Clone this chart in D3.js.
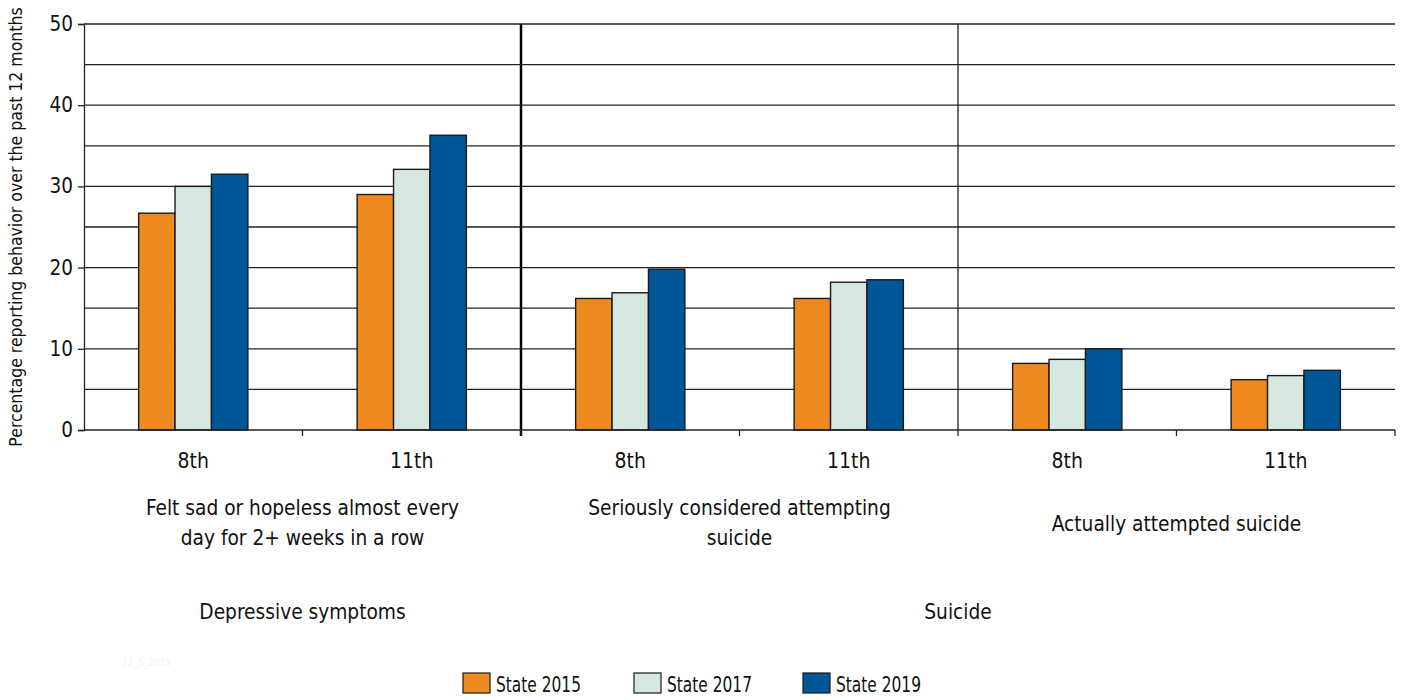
<!DOCTYPE html>
<html>
<head>
<meta charset="utf-8">
<script src="https://cdn.jsdelivr.net/npm/d3@7"></script>
<style>
  body { margin: 0; background: #fff; overflow: hidden; }
  svg { display: block; }
  text { font-family: "DejaVu Sans Condensed", "Liberation Sans Narrow", Arial, sans-serif; fill: #111; }
</style>
</head>
<body>
<script>
// canvas
var width = 1403;
var height = 700;

const margin = {left: 84, right: 8, top: 24, bottom: 270};
const innerWidth = width - margin.left - margin.right;
const innerHeight = height - margin.top - margin.bottom;

// data
var grades = ["8th", "11th", "8th", "11th", "8th", "11th"];
var questions = [
  ["Felt sad or hopeless almost every", "day for 2+ weeks in a row"],
  ["Seriously considered attempting", "suicide"],
  ["Actually attempted suicide"]
];
var topics = ["Depressive symptoms", "Suicide"];
var series = ["State 2015", "State 2017", "State 2019"];
var v2015 = [26.7, 29.0, 16.2, 16.2, 8.2, 6.2];
var v2017 = [30.0, 32.1, 16.9, 18.2, 8.7, 6.7];
var v2019 = [31.5, 36.3, 19.8, 18.5, 10.0, 7.35];
var values = [v2015, v2017, v2019];
var colors = ["#EE8A1F", "#D5E8DF", "#005697"];
var yTicks = [0, 10, 20, 30, 40, 50];

var svg = d3.select("body")
  .append("svg")
  .attr("width", width)
  .attr("height", height);

// scales
var x0 = d3.scaleBand()
  .domain(d3.range(grades.length))
  .range([0, innerWidth]);

var x1 = d3.scaleBand()
  .domain(d3.range(series.length))
  .paddingInner(0)
  .paddingOuter(1.5)
  .range([0, x0.bandwidth()]);

var yScale = d3.scaleLinear()
  .domain([0, 50])
  .range([innerHeight, 0]);

const g = svg.append("g").attr("transform", `translate(${margin.left},${margin.top})`);

// grid every 5
g.append("g").selectAll("line")
  .data(d3.range(5, 51, 5))
  .enter().append("line")
  .attr("x1", 0).attr("x2", innerWidth)
  .attr("y1", d => yScale(d)).attr("y2", d => yScale(d))
  .attr("stroke", "#222").attr("stroke-width", 1.3);

// group dividers
g.append("line")
  .attr("x1", x0(2)).attr("x2", x0(2))
  .attr("y1", 0).attr("y2", innerHeight + 6)
  .attr("stroke", "#000").attr("stroke-width", 2.5);
g.append("line")
  .attr("x1", x0(4)).attr("x2", x0(4))
  .attr("y1", 0).attr("y2", innerHeight)
  .attr("stroke", "#222").attr("stroke-width", 1.3);

// y axis
var yAxis = d3.axisLeft(yScale).tickValues(yTicks).tickSize(6).tickPadding(5);
var ya = g.append("g").call(yAxis);
ya.select(".domain").attr("stroke", "#222").attr("stroke-width", 1.3);
ya.selectAll(".tick line").attr("stroke", "#222").attr("stroke-width", 1.3);
ya.selectAll("text").style("font-size", "20.5px").attr("fill", "#111")
  .style("font-family", "\"DejaVu Sans Condensed\", sans-serif");

// bars
var groups = g.selectAll(".grp")
  .data(d3.range(grades.length))
  .enter().append("g")
  .attr("class", "grp")
  .attr("transform", i => `translate(${x0(i)},0)`);

groups.selectAll("rect")
  .data(i => values.map((s, k) => ({k: k, v: s[i]})))
  .enter().append("rect")
  .attr("x", d => x1(d.k))
  .attr("y", d => yScale(d.v))
  .attr("width", x1.bandwidth())
  .attr("height", d => innerHeight - yScale(d.v))
  .attr("fill", d => colors[d.k])
  .attr("stroke", "#1a1a1a")
  .attr("stroke-width", 1.4);

// x axis line and ticks
g.append("line")
  .attr("x1", 0).attr("x2", innerWidth)
  .attr("y1", innerHeight).attr("y2", innerHeight)
  .attr("stroke", "#222").attr("stroke-width", 1.3);
g.append("g").selectAll("line")
  .data(d3.range(1, grades.length + 1))
  .enter().append("line")
  .attr("x1", i => x0.step() * i).attr("x2", i => x0.step() * i)
  .attr("y1", innerHeight).attr("y2", innerHeight + 6)
  .attr("stroke", "#222").attr("stroke-width", 1.3);

// grade labels
g.selectAll(".grade")
  .data(grades)
  .enter().append("text")
  .attr("class", "grade")
  .attr("x", (d, i) => x0(i) + x0.bandwidth() / 2)
  .attr("y", innerHeight + 38)
  .attr("text-anchor", "middle")
  .style("font-size", "21px")
  .text(d => d);

// question labels
questions.forEach(function (lines, q) {
  var cx = x0(q * 2) + x0.step();
  var y0 = lines.length === 1 ? innerHeight + 101 : innerHeight + 85;
  var t = g.append("text")
    .attr("text-anchor", "middle")
    .style("font-size", "20.7px");
  lines.forEach(function (l, j) {
    t.append("tspan").attr("x", cx).attr("y", y0 + j * 30).text(l);
  });
});

// topic labels
g.append("text")
  .attr("x", x0(0) + x0.step())
  .attr("y", innerHeight + 189)
  .attr("text-anchor", "middle")
  .style("font-size", "20.7px")
  .text(topics[0]);
g.append("text")
  .attr("x", x0(2) + x0.step() * 2)
  .attr("y", innerHeight + 189)
  .attr("text-anchor", "middle")
  .style("font-size", "20.7px")
  .text(topics[1]);

// y title
svg.append("text")
  .attr("transform", `translate(22,${margin.top + innerHeight / 2}) rotate(-90)`)
  .attr("text-anchor", "middle")
  .style("font-size", "17.5px")
  .text("Percentage reporting behavior over the past 12 months");

// faint stamp
svg.append("text")
  .attr("x", 122).attr("y", 666)
  .style("font-size", "10px")
  .style("fill", "#f3f3f3")
  .text("11_5_2019");

// legend
var legX = [463, 634, 803];
var leg = svg.selectAll(".leg")
  .data(series)
  .enter().append("g")
  .attr("class", "leg")
  .attr("transform", (d, i) => `translate(${legX[i]},673)`);
leg.append("rect")
  .attr("width", 27).attr("height", 20)
  .attr("fill", (d, i) => colors[i])
  .attr("stroke", "#1a1a1a").attr("stroke-width", 1.2);
leg.append("text")
  .attr("x", 33).attr("y", 18.5)
  .style("font-size", "21.5px")
  .attr("textLength", 85)
  .attr("lengthAdjust", "spacingAndGlyphs")
  .text(d => d);
</script>
</body>
</html>
